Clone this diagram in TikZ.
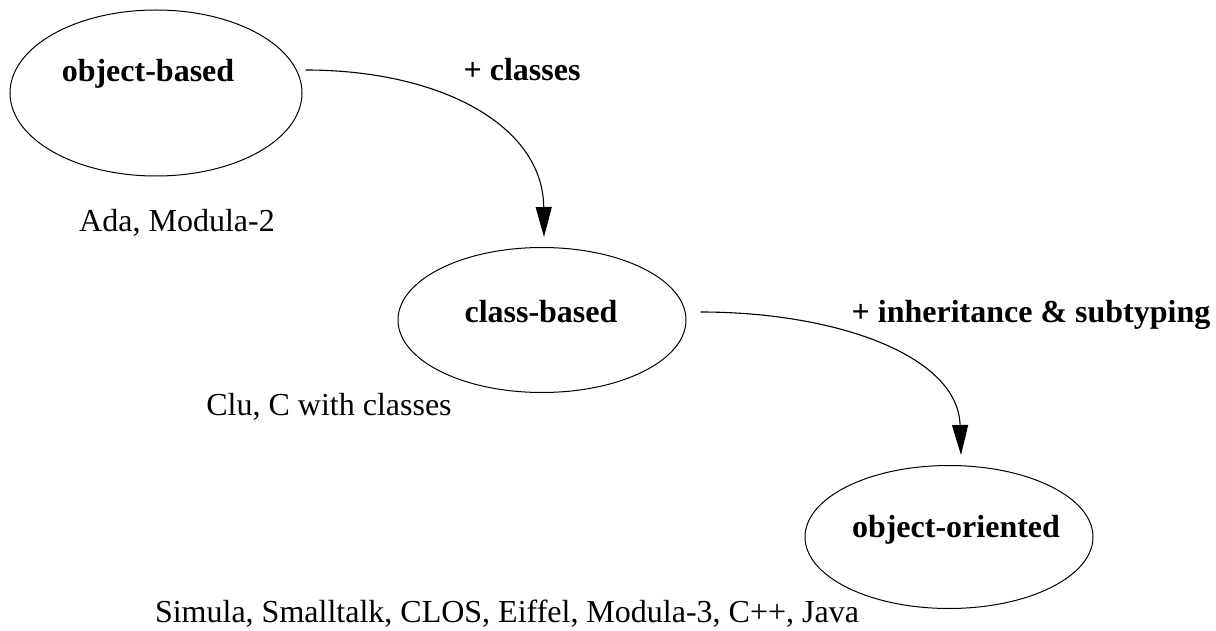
\documentclass[tikz,border=0pt]{standalone}
\usepackage{fontspec}
\setmainfont{Liberation Serif}
\usetikzlibrary{shapes.geometric,arrows.meta}
\begin{document}
\begin{tikzpicture}[x=1pt,y=-1pt,
  state/.style={draw,ellipse,line width=1pt,inner sep=0pt},
  lbl/.style={anchor=base,inner sep=0pt,font=\fontsize{32}{38}\selectfont},
  blbl/.style={lbl,font=\fontsize{32}{38}\selectfont\bfseries},
  edge/.style={line width=1.1pt,-{Triangle[length=30pt,width=16pt]}}]
\useasboundingbox (0,0) rectangle (1216,631);
\node[state,minimum width=292pt,minimum height=166pt] (ob) at (156,93) {};
\node[state,minimum width=288pt,minimum height=145pt] (cb) at (542,320) {};
\node[state,minimum width=288pt,minimum height=143pt] (oo) at (949,537) {};
\node[blbl] (tob) at (148,82) {object-based};
\node[blbl] (tcb) at (541,322) {class-based};
\node[blbl] (too) at (956,537) {object-oriented};
\node[blbl] (l1) at (522,81) {+ classes};
\node[blbl] (l2) at (1031,322) {+ inheritance \& subtyping};
\node[lbl] (n1) at (177,232) {Ada, Modula-2};
\node[lbl] (n2) at (329,415) {Clu, C with classes};
\node[lbl] (n3) at (507,622) {Simula, Smalltalk, CLOS, Eiffel, Modula-3, C++, Java};
\coordinate (s1) at ([xshift=3pt,yshift=23pt]ob.east);
\coordinate (e1) at ([xshift=2pt,yshift=10pt]cb.north);
\coordinate (s2) at ([xshift=14pt,yshift=8pt]cb.east);
\coordinate (e2) at ([xshift=12pt,yshift=10pt]oo.north);
\draw[edge] (s1) .. controls (440,70) and (543,125) .. (e1);
\draw[edge] (s2) .. controls (835,312) and (958,355) .. (e2);
\end{tikzpicture}
\end{document}
